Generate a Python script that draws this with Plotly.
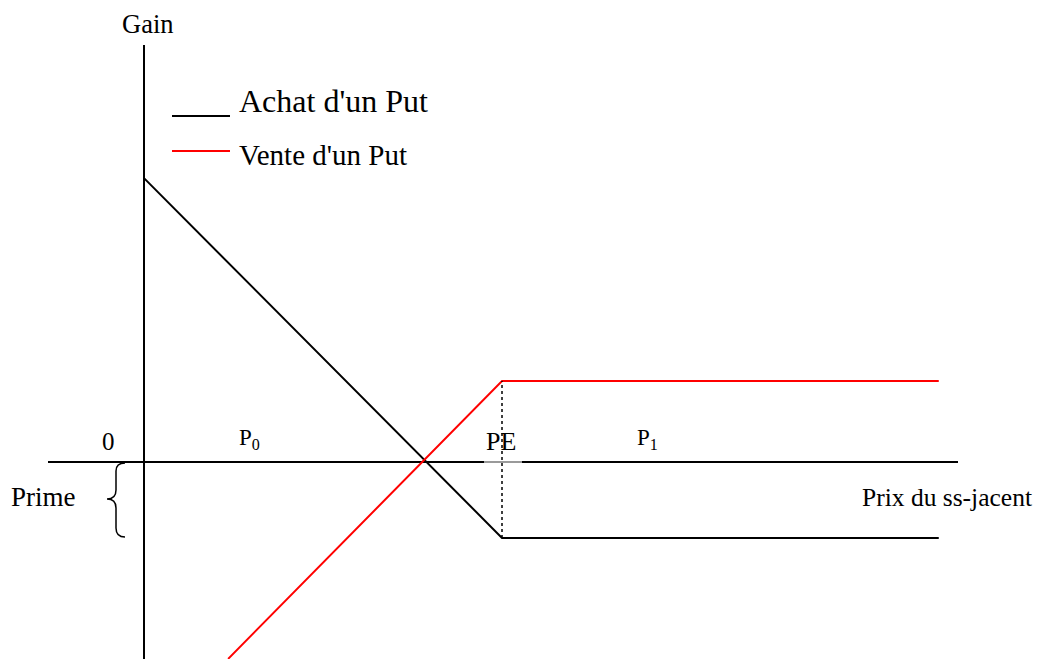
import plotly.graph_objects as go

# ---- data (strike = 100, premium ~ 21) ----
price_achat = [0, 100, 222]
gain_achat = [79.3, -21.2, -21.2]
price_vente = [23.5, 100, 222]
gain_vente = [-55.0, 22.6, 22.6]
strike = 100
label_gain = "Gain"
label_price = "Prix du ss-jacent"
legend_labels = ["Achat d'un Put", "Vente d'un Put"]

# ---- scale helpers for decorations (screen pixel -> data) ----
VW, VH = 1046, 659          # browser viewport
PAD = 8                     # page body margin
W, H = VW - PAD, VH - PAD   # figure fits the viewport exactly
OX, OY, S = 144, 462, 3.58


def dx(px):
    return (px - OX) / S


def dy(py):
    return (OY - py) / S


FONT = "Liberation Serif, Times New Roman, serif"

fig = go.Figure()

fig.add_trace(go.Scatter(x=price_achat, y=gain_achat, mode="lines",
                         line=dict(color="black", width=2), showlegend=False,
                         hoverinfo="skip"))
fig.add_trace(go.Scatter(x=price_vente, y=gain_vente, mode="lines",
                         line=dict(color="#ff0000", width=2), showlegend=False,
                         hoverinfo="skip"))

shapes = []
# axes
shapes.append(dict(type="line", xref="x", yref="y", x0=0, x1=0, y0=dy(VH + 2), y1=dy(45),
                   line=dict(color="black", width=2), layer="below"))
shapes.append(dict(type="line", xref="x", yref="y", x0=dx(48), x1=dx(958), y0=0, y1=0,
                   line=dict(color="black", width=2), layer="below"))
shapes.append(dict(type="line", xref="x", yref="y", x0=dx(484), x1=dx(522), y0=0, y1=0,
                   line=dict(color="#9a9a9a", width=2), layer="below"))
# dotted strike line
shapes.append(dict(type="line", xref="x", yref="y", x0=strike, x1=strike,
                   y0=gain_achat[1], y1=gain_vente[1],
                   line=dict(color="black", width=1.5, dash="dot")))
# legend samples
shapes.append(dict(type="line", xref="x", yref="y", x0=dx(172), x1=dx(230), y0=dy(116), y1=dy(116),
                   line=dict(color="black", width=2)))
shapes.append(dict(type="line", xref="x", yref="y", x0=dx(172), x1=dx(230), y0=dy(151), y1=dy(151),
                   line=dict(color="#ff0000", width=2)))


# brace for "Prime"
def P(px, py):
    return f"{dx(px):.3f},{dy(py):.3f}"


brace = (f"M {P(125,463)} Q {P(116,463)} {P(116,471)} L {P(116,490)} "
         f"Q {P(116,499)} {P(107,499)} Q {P(116,499)} {P(116,508)} "
         f"L {P(116,528)} Q {P(116,537)} {P(125,537)}")
shapes.append(dict(type="path", xref="x", yref="y", path=brace,
                   line=dict(color="black", width=1.5)))

annotations = []


def txt(text, px, py, size, xanchor="left"):
    annotations.append(dict(text=text, x=dx(px), y=dy(py), xref="x", yref="y",
                            showarrow=False, xanchor=xanchor, yanchor="middle",
                            font=dict(family=FONT, size=size, color="black")))


txt(label_gain, 148, 24, 26.5, "center")
txt(legend_labels[0], 237, 101, 32)
txt(legend_labels[1], 237, 155, 29)
txt("0", 108, 441, 25, "center")
txt("P<sub>0</sub>", 237, 439, 23)
txt("PE", 501, 441, 26, "center")
txt("P<sub>1</sub>", 635, 439, 23)
txt("Prime", 9, 497, 27)
txt(label_price, 860, 497, 25.5)

fig.update_layout(
    width=W, height=H,
    margin=dict(l=0, r=0, t=0, b=0),
    paper_bgcolor="white", plot_bgcolor="white",
    xaxis=dict(range=[dx(PAD), dx(VW)], visible=False, fixedrange=True),
    yaxis=dict(range=[dy(VH), dy(PAD)], visible=False, fixedrange=True),
    shapes=shapes, annotations=annotations, showlegend=False,
)

fig.write_html("out.html")
